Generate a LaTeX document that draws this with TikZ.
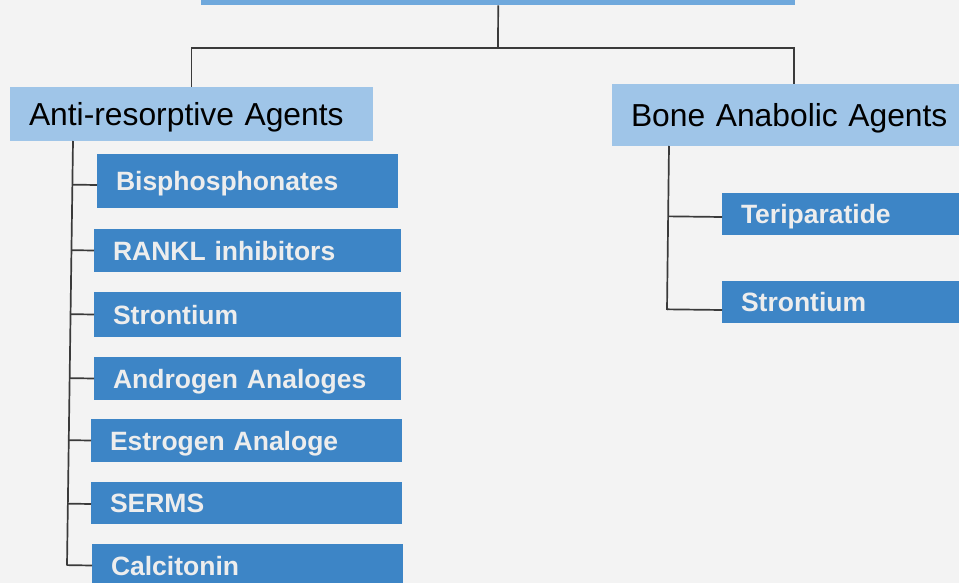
\documentclass[tikz,border=0pt]{standalone}
\usepackage{fontspec}
\setmainfont{Liberation Sans}
\usetikzlibrary{calc, positioning}
\definecolor{pagegrey}{HTML}{F3F3F3}
\definecolor{rootblue}{HTML}{6FA8DC}
\definecolor{groupblue}{HTML}{9FC5E8}
\definecolor{itemblue}{HTML}{3D85C6}
\definecolor{linegrey}{HTML}{3A3A3A}
\tikzset{
  box/.style={anchor=north west, inner xsep=19pt, inner ysep=0pt, outer sep=0pt, align=left, text depth=0pt},
  group/.style 2 args={box, fill=groupblue, text=black, font=\fontsize{31.8}{36}\selectfont, text height=22.8pt, text width=#1, minimum height=#2},
  item/.style 2 args={box, fill=itemblue, text=white!93!black, font=\bfseries\fontsize{26.5}{30}\selectfont, text height=19pt, text width=#1, minimum height=#2},
  tie/.style={draw=linegrey, line width=1.7pt}
}

\begin{document}
\begin{tikzpicture}[x=1pt, y=-1pt]
  \useasboundingbox (0,0) rectangle (959,583);
  \clip (0,0) rectangle (959,583);
  \fill[pagegrey] (0,0) rectangle (959,583);

  \node[fill=rootblue, anchor=north west, inner sep=0pt, minimum width=594pt, minimum height=60pt] (root) at (201,-55) {};
  \node[group={325pt}{54pt}] (anti) at (10,87) {Anti-resorptive Agents};
  \node[group={362pt}{62pt}] (bone) at (612,84) {Bone Anabolic Agents};

  \node[item={263pt}{54pt}] (bis) at (97,154) {Bisphosphonates};
  \node[item={269pt}{43pt}] (rankl) at (94,229) {RANKL inhibitors};
  \node[item={269pt}{45pt}] (stronA) at (94,292) {Strontium};
  \node[item={269pt}{43pt}] (andro) at (94,357) {Androgen Analoges};
  \node[item={273pt}{43pt}] (estro) at (91,419) {Estrogen Analoge};
  \node[item={273pt}{42pt}] (serms) at (91,482) {SERMS};
  \node[item={273pt}{43pt}] (calci) at (92,544) {Calcitonin};

  \node[item={222pt}{42pt}] (teri) at (722,193) {Teriparatide};
  \node[item={222pt}{42pt}] (stronB) at (722,281) {Strontium};

  % top level
  \coordinate (hub) at (498,48);
  \draw[tie] (root.south) -- (hub);
  \draw[tie] (anti.north) |- (hub) -| ($(bone.north west)+(182,0)$);

  % left spine
  \coordinate (ltop) at ($(anti.south west)+(63,0)$);
  \coordinate (lbot) at (67,565.5);
  \draw[tie] (ltop) -- (lbot);
  \foreach \n/\dy in {bis/4, rankl/0, stronA/0, andro/0, estro/0, serms/1, calci/0} {
    \coordinate (tap) at ($(\n.west)+(0,\dy)$);
    \draw[tie] ($(ltop)!(tap)!(lbot)$) -- (tap);
  }

  % right spine
  \coordinate (rtop) at ($(bone.south west)+(57,0)$);
  \coordinate (rbot) at (667,310);
  \draw[tie] (rtop) -- (rbot);
  \foreach \n/\dy in {teri/3, stronB/8} {
    \coordinate (tap) at ($(\n.west)+(0,\dy)$);
    \draw[tie] ($(rtop)!(tap)!(rbot)$) -- (tap);
  }
\end{tikzpicture}
\end{document}
